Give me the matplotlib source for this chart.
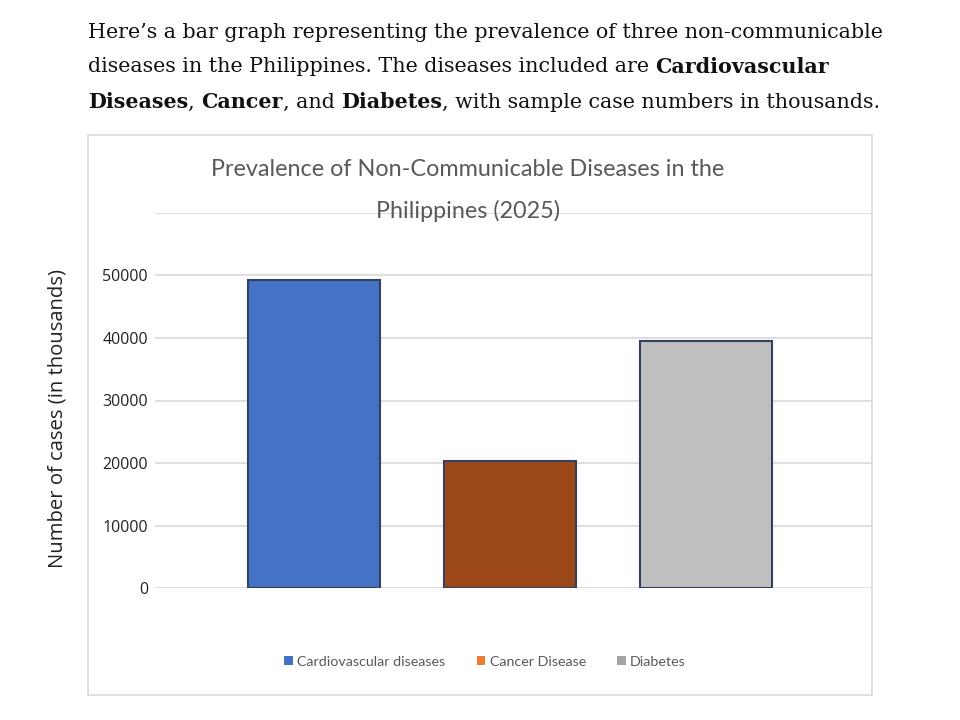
#!/usr/bin/env python3
"""Bar chart: prevalence of non-communicable diseases in the Philippines."""
import matplotlib
matplotlib.use("Agg")
import matplotlib.pyplot as plt
from matplotlib.patches import Patch, Rectangle

categories = ["Cardiovascular diseases", "Cancer Disease", "Diabetes"]
cases = [49300, 20300, 39500]
bar_colors = ["#4472C4", "#9C4818", "#BFBFBF"]
legend_colors = ["#4472C4", "#ED7D31", "#A5A5A5"]
yticks = [0, 10000, 20000, 30000, 40000, 50000]

intro = [
    [("Here\u2019s a bar graph representing the prevalence of three non-communicable", "normal")],
    [("diseases in the Philippines. The diseases included are ", "normal"),
     ("Cardiovascular", "bold")],
    [("Diseases", "bold"), (", ", "normal"), ("Cancer", "bold"), (", and ", "normal"),
     ("Diabetes", "bold"), (", with sample case numbers in thousands.", "normal")],
]

W, H = 960, 720
fig = plt.figure(figsize=(9.6, 7.2), dpi=100)
fig.patch.set_facecolor("white")

# plot area in pixel coords
x0, x1, y0, y1 = 155, 872, 213, 588
ax = fig.add_axes([x0 / W, 1 - y1 / H, (x1 - x0) / W, (y1 - y0) / H])
xs = list(range(len(categories)))
ax.bar(xs, cases, width=0.673, color=bar_colors, edgecolor="#33405E", linewidth=1.5, zorder=3)
ax.set_xlim(-0.811, 2.847)
ax.set_ylim(0, 60000)
ax.set_yticks(yticks + [60000])
ax.set_yticklabels([str(v) for v in yticks] + [""], family="Open Sans", fontsize=11.5, color="#222222")
ax.yaxis.grid(True, color="#D9D9D9", linewidth=1.2, zorder=0)
ax.set_xticks([])
ax.tick_params(axis="y", length=0, pad=5)
for s in ax.spines.values():
    s.set_visible(False)
ax.set_axisbelow(True)

# chart border
border = Rectangle((88 / W, 1 - 695 / H), (872 - 88) / W, (695 - 135) / H,
                   transform=fig.transFigure, fill=False, edgecolor="#D9D9D9", linewidth=1.2)
fig.add_artist(border)

fig.text(468 / W, 1 - 170 / H, "Prevalence of Non-Communicable Diseases in the",
         ha="center", va="center", family="Lato", fontsize=16.8, color="#595959")
fig.text(468 / W, 1 - 211 / H, "Philippines (2025)",
         ha="center", va="center", family="Lato", fontsize=16.8, color="#595959", zorder=5)

fig.text(58 / W, 1 - 418 / H, "Number of cases (in thousands)", rotation=90,
         ha="center", va="center", family="Open Sans", fontsize=14.6, color="#222222")

handles = [Patch(facecolor=c, edgecolor="none") for c in legend_colors]
fig.legend(handles, categories, loc="center", bbox_to_anchor=(485 / W, 1 - 662 / H),
           ncol=3, frameon=False, handlelength=0.6, handleheight=0.6, handletextpad=0.3,
           columnspacing=2.2, prop={"family": "Lato", "size": 10.3}, labelcolor="#595959")

# intro paragraph with mixed weights
renderer = fig.canvas.get_renderer()
line_y = [32, 67, 102]
for pieces, yy in zip(intro, line_y):
    x = 88
    for txt, weight in pieces:
        t = fig.text(x / W, 1 - yy / H, txt, ha="left", va="center", family="DejaVu Serif",
                     fontsize=14.9, fontweight=weight, color="#111111")
        x += t.get_window_extent(renderer).width

fig.savefig("out.png", dpi=100, facecolor="white")
